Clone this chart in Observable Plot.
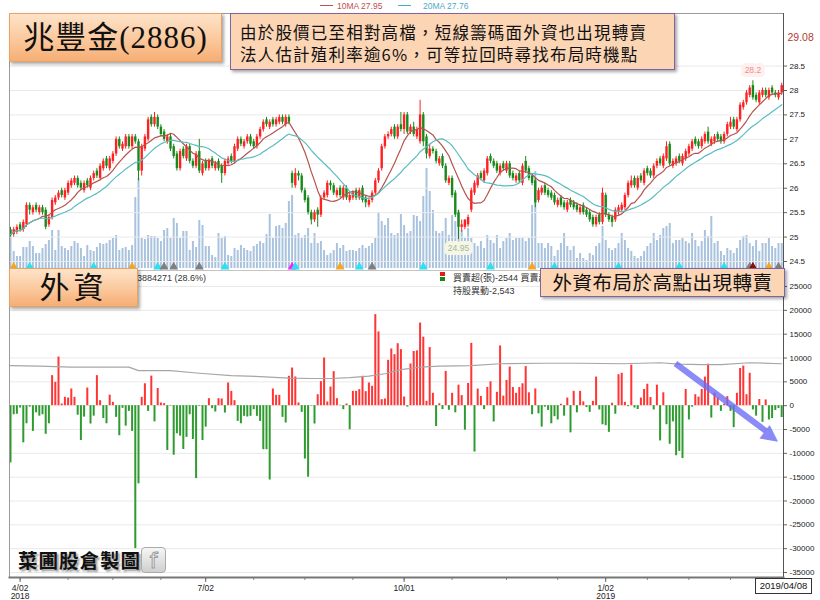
<!DOCTYPE html>
<html><head><meta charset="utf-8">
<script src="https://cdn.jsdelivr.net/npm/d3@7"></script>
<script src="https://cdn.jsdelivr.net/npm/@observablehq/plot@0.6"></script>
<style>
body{margin:0;background:#fff;}
#wrap{position:relative;width:820px;height:600px;overflow:hidden;background:#fff;font-family:"Liberation Sans",Arial,sans-serif;}
#wrap svg{position:absolute;left:0;}
.ov{position:absolute;box-sizing:border-box;white-space:nowrap;}
.orange{background:linear-gradient(to bottom,#fde3c9 0%,#fbc89c 55%,#f6ae74 100%);border:1px solid #e9a264;box-shadow:2px 2px 3px rgba(0,0,0,.35);text-align:center;color:#111;font-family:"Liberation Serif","Noto Sans CJK TC",serif;}
.peach{background:#fcd5b5;border:1.5px solid #8064a2;box-shadow:2px 2px 3px rgba(0,0,0,.35);color:#111;font-family:"Noto Sans CJK TC",sans-serif;}
.small{font-size:9px;color:#333;font-family:"Liberation Sans","Noto Sans CJK TC",sans-serif;}
</style></head><body><div id="wrap"></div>
<script>
// ---------- data ----------
const priceOpen = [25.15,25.05,25.10,25.25,25.15,25.25,25.65,25.50,25.65,25.50,
 25.60,25.55,25.25,25.40,25.70,25.80,25.95,25.80,25.90,26.05,
 26.10,26.20,26.10,25.95,26.15,26.00,26.20,26.35,26.20,26.40,
 26.60,26.40,26.55,26.70,27.00,26.80,26.85,27.05,26.85,27.05,
 26.95,26.35,26.80,27.00,27.45,27.30,27.45,27.25,27.15,26.95,
 27.05,26.85,26.70,26.40,26.80,26.60,26.85,26.55,26.45,26.75,
 26.30,26.55,26.40,26.60,26.40,26.55,26.45,26.30,26.50,26.65,
 26.55,26.80,27.00,26.85,26.95,27.05,26.95,26.85,27.05,27.20,
 27.40,27.25,27.40,27.30,27.35,27.45,27.30,27.45,26.30,26.05,
 26.30,26.25,25.95,25.80,25.50,25.35,25.55,25.45,25.80,25.85,
 26.10,26.05,25.85,26.00,25.80,26.00,25.75,25.80,25.95,25.80,
 26.00,25.80,25.65,25.75,25.90,26.15,26.40,26.85,27.05,27.10,
 27.25,27.05,27.30,27.20,27.50,27.15,27.25,27.05,26.95,27.50,
 27.05,26.65,26.80,26.75,26.50,26.65,26.45,26.10,26.20,25.90,
 25.50,25.20,25.20,25.25,25.55,25.90,26.05,26.30,26.15,26.30,
 26.65,26.55,26.50,26.30,26.50,26.35,26.50,26.30,26.15,26.30,
 26.10,26.55,26.40,26.25,26.15,25.75,25.90,26.05,25.95,25.90,
 25.85,25.65,25.80,25.70,25.55,25.75,25.70,25.65,25.50,25.65,
 25.55,25.50,25.40,25.25,25.45,25.30,25.85,25.45,25.40,25.35,
 25.50,25.55,25.60,25.85,26.05,26.20,26.00,26.25,26.10,26.40,
 26.35,26.25,26.45,26.60,26.45,26.60,26.90,26.45,26.50,26.65,
 26.50,26.60,26.70,26.80,27.00,26.95,26.85,26.95,27.15,26.90,
 26.95,27.10,27.05,26.95,27.10,27.25,27.40,27.20,27.40,27.65,
 27.75,27.90,28.10,27.90,27.75,27.90,28.00,27.85,28.05,27.95,
 27.85,27.95];
const priceHigh = [25.20,25.20,25.25,25.30,25.35,25.70,25.70,25.65,25.70,25.65,
 25.65,25.60,25.45,25.80,25.85,25.95,26.00,26.00,26.15,26.20,
 26.25,26.25,26.15,26.15,26.20,26.25,26.35,26.40,26.50,26.60,
 26.65,26.65,26.75,27.05,27.05,26.95,27.10,27.10,27.10,27.10,
 27.00,26.90,27.10,27.45,27.50,27.55,27.50,27.30,27.20,27.10,
 27.10,26.90,26.75,26.80,26.85,26.90,26.90,26.60,26.75,27.00,
 26.55,26.60,26.60,26.65,26.55,26.60,26.50,26.60,26.65,26.70,
 26.90,27.05,27.05,27.00,27.10,27.10,27.00,27.10,27.25,27.40,
 27.45,27.40,27.45,27.45,27.50,27.50,27.50,27.50,26.35,26.40,
 26.35,26.30,26.00,25.85,25.55,25.55,25.60,25.85,25.95,26.15,
 26.15,26.10,26.00,26.05,26.05,26.05,25.90,25.95,26.00,26.00,
 26.05,25.85,25.80,25.95,26.20,26.40,26.90,27.10,27.15,27.25,
 27.30,27.30,27.55,27.55,27.55,27.30,27.35,27.25,27.80,27.55,
 27.10,26.90,26.85,26.80,26.65,26.70,26.50,26.25,26.25,25.95,
 25.55,25.35,25.35,25.45,26.00,26.15,26.30,26.35,26.40,26.65,
 26.70,26.60,26.55,26.50,26.55,26.55,26.55,26.35,26.30,26.35,
 26.50,26.65,26.45,26.30,26.20,26.00,26.05,26.10,26.00,25.95,
 25.90,25.80,25.85,25.75,25.75,25.80,25.75,25.70,25.65,25.70,
 25.60,25.55,25.45,25.45,25.50,26.00,25.90,25.50,25.45,25.60,
 25.65,25.70,25.90,26.15,26.25,26.25,26.25,26.30,26.40,26.45,
 26.40,26.50,26.60,26.65,26.70,26.95,26.95,26.60,26.65,26.70,
 26.70,26.80,26.90,27.00,27.05,27.00,27.05,27.15,27.25,27.05,
 27.10,27.15,27.10,27.15,27.35,27.45,27.45,27.45,27.75,27.80,
 28.00,28.10,28.20,27.95,28.00,28.05,28.05,28.05,28.10,28.00,
 28.00,28.15];
const priceLow = [25.00,25.00,25.05,25.10,25.10,25.20,25.45,25.45,25.50,25.45,
 25.45,25.15,25.20,25.35,25.65,25.75,25.80,25.75,25.85,26.00,
 26.05,26.00,25.95,25.90,26.00,25.95,26.15,26.20,26.15,26.35,
 26.40,26.35,26.50,26.65,26.80,26.75,26.80,26.80,26.80,26.90,
 26.15,26.25,26.75,26.95,27.25,27.25,27.20,27.05,26.95,26.90,
 26.75,26.60,26.35,26.35,26.60,26.55,26.50,26.40,26.40,26.30,
 26.25,26.35,26.35,26.40,26.35,26.35,26.10,26.25,26.45,26.50,
 26.50,26.75,26.85,26.80,26.90,26.85,26.80,26.80,27.00,27.15,
 27.25,27.20,27.25,27.25,27.30,27.30,27.25,27.30,26.00,26.00,
 26.15,25.90,25.70,25.45,25.25,25.30,25.20,25.40,25.75,25.80,
 25.95,25.85,25.80,25.80,25.75,25.75,25.70,25.75,25.75,25.75,
 25.70,25.60,25.60,25.70,25.85,26.10,26.35,26.80,27.00,27.05,
 27.00,27.00,27.15,27.10,27.10,27.10,27.05,27.00,26.90,26.85,
 26.60,26.60,26.70,26.50,26.45,26.40,26.10,26.05,25.80,25.40,
 24.95,25.10,25.15,25.20,25.50,25.85,26.00,26.15,26.10,26.25,
 26.50,26.40,26.30,26.25,26.35,26.30,26.20,26.15,26.10,26.10,
 26.05,26.30,26.15,26.05,25.60,25.70,25.85,25.85,25.80,25.75,
 25.65,25.60,25.60,25.55,25.50,25.60,25.55,25.50,25.45,25.45,
 25.40,25.30,25.20,25.20,25.25,25.25,25.40,25.30,25.20,25.30,
 25.45,25.50,25.55,25.80,26.00,26.00,25.95,26.10,26.05,26.25,
 26.20,26.20,26.40,26.45,26.40,26.55,26.45,26.40,26.45,26.50,
 26.45,26.55,26.65,26.75,26.85,26.80,26.80,26.90,26.90,26.85,
 26.90,26.95,26.90,26.90,27.05,27.20,27.20,27.15,27.35,27.60,
 27.70,27.85,27.80,27.75,27.70,27.85,27.85,27.80,27.90,27.85,
 27.80,27.90];
const priceClose = [25.05,25.15,25.20,25.15,25.30,25.65,25.55,25.60,25.55,25.60,
 25.50,25.20,25.40,25.75,25.80,25.90,25.85,25.95,26.10,26.15,
 26.20,26.05,26.00,26.10,26.05,26.20,26.30,26.25,26.45,26.55,
 26.45,26.60,26.70,27.00,26.85,26.90,27.05,26.85,27.05,26.95,
 26.35,26.85,27.05,27.40,27.30,27.45,27.25,27.10,27.00,27.05,
 26.80,26.65,26.40,26.75,26.65,26.85,26.55,26.45,26.70,26.35,
 26.50,26.40,26.55,26.45,26.50,26.40,26.30,26.55,26.60,26.55,
 26.85,27.00,26.90,26.95,27.05,26.90,26.85,27.05,27.20,27.35,
 27.30,27.35,27.30,27.40,27.45,27.35,27.45,27.35,26.10,26.30,
 26.25,25.95,25.75,25.50,25.35,25.50,25.45,25.80,25.90,26.10,
 26.05,25.90,25.95,25.85,26.00,25.80,25.85,25.90,25.80,25.95,
 25.75,25.70,25.75,25.90,26.15,26.35,26.85,27.05,27.10,27.20,
 27.05,27.25,27.20,27.50,27.15,27.25,27.10,27.20,27.50,26.95,
 26.70,26.80,26.75,26.55,26.60,26.45,26.15,26.20,25.85,25.45,
 25.20,25.25,25.35,25.40,25.95,26.10,26.25,26.20,26.35,26.60,
 26.55,26.45,26.35,26.45,26.40,26.50,26.25,26.20,26.25,26.15,
 26.45,26.35,26.20,26.10,25.70,25.95,26.00,25.90,25.85,25.80,
 25.70,25.75,25.65,25.60,25.70,25.65,25.60,25.55,25.60,25.50,
 25.45,25.35,25.25,25.40,25.30,25.90,25.45,25.35,25.30,25.55,
 25.60,25.65,25.85,26.10,26.15,26.05,26.20,26.15,26.35,26.30,
 26.25,26.45,26.55,26.50,26.65,26.85,26.50,26.55,26.60,26.55,
 26.65,26.75,26.85,26.95,26.90,26.85,27.00,27.10,26.95,27.00,
 27.05,27.00,26.95,27.10,27.30,27.35,27.25,27.40,27.70,27.75,
 27.95,28.05,27.85,27.80,27.95,28.00,27.90,28.00,27.95,27.90,
 27.95,28.10];
// volume, thousand lots
const volume = [35,17,12,12,21,21,27,22,15,15,
 20,24,28,38,18,38,22,20,18,22,
 27,25,20,12,23,18,17,21,25,24,
 25,28,30,33,18,20,21,18,23,71,
 90,30,29,33,32,32,30,27,38,40,
 30,50,45,30,37,37,18,27,21,48,
 43,22,22,13,11,35,30,32,13,12,
 20,18,23,20,18,17,22,24,27,25,
 34,54,30,42,43,40,45,67,73,33,
 35,30,33,40,25,35,25,27,18,13,
 15,18,25,20,23,17,18,18,17,20,
 23,20,22,25,30,56,47,43,50,35,
 33,35,54,43,35,37,53,52,47,72,
 100,77,58,37,35,37,50,33,53,47,
 58,38,30,40,30,25,22,27,20,33,
 28,25,33,20,27,30,35,28,30,30,
 30,27,30,63,97,25,25,20,25,22,
 12,18,25,35,22,18,22,10,15,10,
 8,15,13,22,25,42,28,20,18,20,
 25,35,28,20,17,12,10,12,17,22,
 25,35,28,33,40,42,45,25,28,28,
 30,27,25,35,28,22,27,38,32,52,
 25,27,17,13,20,18,15,20,28,32,
 33,25,22,28,17,25,25,30,22,20,25,25];
// foreign investors net buy/sell (lots)
const foreignNet = [-12000,-1900,-1800,-500,-7800,-3800,-300,-5400,-1500,-2200,
 -1900,-6000,-3800,6300,4900,10200,350,1750,1600,3500,
 1750,-2000,-7300,-2400,3700,-3850,-2200,6300,1050,-2700,
 -3800,2200,700,-2450,-6300,-560,-4300,-1200,-5400,-30000,
 -16400,1750,4600,-1200,6200,-3400,3600,560,420,-9400,
 -100,-10400,-5900,-6400,-9200,-6650,-1900,-7100,-15300,-150,
 -7300,-4500,1470,-630,-1330,1470,1400,-1540,4760,3000,
 1050,-3300,-3800,-2240,-2380,-2240,-840,-2240,-3300,-9240,
 -9240,-15600,3500,2170,2170,-2450,-3640,6160,7900,6020,
 560,-1400,-11200,-15000,-100,-3850,2300,5040,10000,770,
 3900,7140,1470,80,-840,350,-5040,3000,3000,3360,
 6160,2940,4760,4060,19100,15470,1260,1400,9520,11900,
 10700,13000,11760,1820,-280,8750,11370,11500,17330,14380,
 900,12190,2600,-4380,400,-820,7190,-960,2600,-1500,
 4300,2120,-5140,4660,13080,-9730,3490,1920,-820,3840,
 5000,-3420,2800,12530,2000,5300,8100,3800,2600,3800,
 4600,8200,2700,-1900,3500,-1700,-4500,-300,-1000,-3800,
 -2300,-3000,300,-2200,1600,-5700,3000,-1500,3000,800,
 -400,-1400,900,6000,-900,-4000,-4200,-5600,500,-1800,
 6500,6800,700,-200,8500,-500,-800,1600,3400,4500,
 1700,-900,4300,-7400,2700,-4000,-8100,-3400,-10500,-9600,
 -11100,3400,-3000,-300,2300,1800,3400,6000,8700,-2600,
 2600,1600,-1200,300,1900,-1200,-4600,2600,7800,8300,
 2300,6800,-900,-2200,1300,-3500,1200,-3000,-2700,-1000,
 -600,-2500];
// foreign holdings trend line (sampled days, drawn on the lower panel)
const holdIdx = [0,9,19,28,37,40,50,59,69,78,87,94,100,106,112,117,122,128,134,144,153,166,178,191,203,209,216,222,231,241];
const holdVal = [8400,8300,8100,8100,8100,7350,7350,6800,6300,6100,5800,5700,5700,5900,6200,6700,7550,8100,8300,8400,8800,8900,8900,8800,9000,8700,8600,8600,9000,8800];
// signal triangles at the bottom of the price panel
const eventIdx = [1,6,26,38,46,48,51,59,67,88,89,103,109,113,129,150,163,170,190,209,223,231,232,237,240];
const eventColor = ["#f5a623","#2fe0f0","#2fe0f0","#f5a623","#2fe0f0","#7f7f7f","#7f7f7f","#7f7f7f","#2fe0f0","#ff1fff","#2fe0f0","#f5a623","#2fe0f0","#7f7f7f","#2fe0f0","#2fe0f0","#f5a623","#2fe0f0","#2fe0f0","#2fe0f0","#2fe0f0","#7f7f7f","#8b0d0d","#f5a623","#7f7f7f"];
const priceTicks = [24.5,25,25.5,26,26.5,27,27.5,28,28.5];
const priceAxisMax = 29.08;
const foreignTicks = [-35000,-30000,-25000,-20000,-15000,-10000,-5000,0,5000,10000,15000,20000,25000];
const xTickIdx = [3,18,32,47,61,76,92,107,123,138,155,171,186,199,212,225];
const xLabelIdx = [3,61,123,186];
const xLabels = ["4/02\n2018","7/02","10/01","1/02\n2019"];
const lastDate = "2019/04/08";
// annotation arrow (day index, lots)
const arrowStart = [207.8, 8850];
const arrowBase = [236.0, -5290];
const arrowHead = [238.0, -6300];

// ---------- charts ----------
const wrap = document.getElementById("wrap");
const xDom = [-0.3125, 241.5625];
const common = {width: 820, marginLeft: 9, marginRight: 37};
const days = priceClose.map((c, i) => ({i, o: priceOpen[i], h: priceHigh[i], l: priceLow[i], c, v: volume[i], f: foreignNet[i]}));
const upColor = "#ff2121", downColor = "#178a1a";
const candleColor = d => d.c >= d.o ? upColor : downColor;
const font = {background: "transparent", fontFamily: "'Liberation Sans', Arial, sans-serif", fontSize: "8px", color: "#222"};

const volSvg = Plot.plot({...common, height: 272, marginTop: 13, marginBottom: 4,
  x: {domain: xDom, axis: null}, y: {domain: [0, 255], axis: null},
  style: {background: "transparent"},
  marks: [Plot.ruleX(days, {x: "i", y1: 0, y2: "v", stroke: "#a9c2de", strokeWidth: 2})]
});

const maxDay = days[d3.maxIndex(priceHigh)];
const minDay = days[d3.minIndex(priceLow)];

const priceSvg = Plot.plot({...common, height: 272, marginTop: 13, marginBottom: 2,
  x: {domain: xDom, axis: null},
  y: {domain: [24.316, 29.576], axis: null},
  color: {type: "identity"},
  style: font,
  marks: [
    Plot.gridY(priceTicks, {stroke: "#e9e9e9", strokeOpacity: 1}),
    Plot.axisY(priceTicks, {anchor: "right", tickSize: 3, tickPadding: 3, tickFormat: d => String(d), label: null, stroke: "#666"}),
    Plot.text([priceAxisMax], {y: d => d, text: d => d.toFixed(2), frameAnchor: "right", textAnchor: "start", dx: 4, fill: "#b23b33", fontSize: 10.5}),
    Plot.ruleX(days, {x: "i", y1: "l", y2: "h", stroke: candleColor, strokeWidth: 1}),
    Plot.ruleX(days, {x: "i", y1: "o", y2: "c", stroke: candleColor, strokeWidth: 2.4}),
    Plot.lineY(days, Plot.windowY({k: 10, anchor: "end"}, {x: "i", y: "c", stroke: "#b5524d", strokeWidth: 1.2})),
    Plot.lineY(days, Plot.windowY({k: 20, anchor: "end"}, {x: "i", y: "c", stroke: "#5bbcbf", strokeWidth: 1.2})),
    Plot.dot(eventIdx, {x: d => d, fill: (d, k) => eventColor[k], symbol: "triangle", r: 3.3, frameAnchor: "bottom", dy: -3.5}),
    Plot.text([maxDay], {x: "i", y: "h", text: d => String(d.h), dy: -10, fill: "#f08b8b", stroke: "#fff0f0", strokeWidth: 8, fontSize: 8.5}),
    Plot.text([minDay], {x: "i", y: "l", text: d => String(d.l), dy: 9, fill: "#9dbb9d", stroke: "#f6f6e6", strokeWidth: 8, fontSize: 8.5}),
    Plot.frame({anchor: "top", stroke: "#9a9a9a"}),
    Plot.frame({anchor: "left", stroke: "#9a9a9a"}),
    Plot.frame({anchor: "right", stroke: "#555"}),
    Plot.frame({anchor: "bottom", stroke: "#c4c4c4"})
  ]
});

const labelMap = new Map(xLabelIdx.map((d, k) => [d, xLabels[k]]));
const arrowColor = "#6a6af5";
const foreignSvg = Plot.plot({...common, height: 330, marginTop: 2, marginBottom: 23,
  x: {domain: xDom, axis: null},
  y: {domain: [-36050, 27940], axis: null},
  color: {type: "identity"},
  style: font,
  marks: [
    Plot.gridY(foreignTicks, {stroke: "#e9e9e9", strokeOpacity: 1}),
    Plot.ruleX(days, {x: "i", y1: 0, y2: "f", stroke: d => d.f >= 0 ? "#ff3434" : "#2e9b2e", strokeWidth: 2}),
    Plot.line(holdIdx, {x: d => d, y: (d, k) => holdVal[k], stroke: "#a6a6a6", strokeWidth: 1.2}),
    Plot.link([{x1: arrowStart[0], y1: arrowStart[1], x2: arrowBase[0], y2: arrowBase[1]}],
      {x1: "x1", y1: "y1", x2: "x2", y2: "y2", stroke: arrowColor, strokeOpacity: 0.78, strokeWidth: 6}),
    Plot.text([{x: arrowHead[0], y: arrowHead[1]}], {x: "x", y: "y", text: () => "▶", rotate: 37, fontSize: 22, fill: arrowColor, fillOpacity: 0.78, fontFamily: "DejaVu Sans"}),
    Plot.axisY(foreignTicks, {anchor: "right", tickSize: 3, tickPadding: 3, tickFormat: d => String(d), label: null, stroke: "#666"}),
    Plot.axisX(xTickIdx, {anchor: "bottom", tickSize: 3, tickFormat: () => "", label: null, stroke: "#888"}),
    Plot.axisX(xLabelIdx, {anchor: "bottom", tickSize: 5, tickPadding: 2, tickFormat: d => labelMap.get(d), label: null, fontSize: 8.5, stroke: "#666"}),
    Plot.frame({anchor: "left", stroke: "#9a9a9a"}),
    Plot.frame({anchor: "right", stroke: "#555"}),
    Plot.frame({anchor: "bottom", stroke: "#777", strokeWidth: 2})
  ]
});

volSvg.style.top = "0px";
priceSvg.style.top = "0px";
foreignSvg.style.top = "270px";
wrap.append(volSvg, priceSvg, foreignSvg);

// ---------- overlays ----------
function ov(html, css, cls) {
  const d = document.createElement("div");
  d.className = "ov " + (cls || "");
  d.style.cssText = css;
  d.innerHTML = html;
  wrap.appendChild(d);
  return d;
}
// legend
ov("", "left:320px;top:5px;width:13px;height:0;border-top:1.2px solid #c0504d;");
ov("10MA 27.95", "left:337px;top:1px;font-size:8.5px;color:#c0504d;");
ov("", "left:398px;top:5px;width:13px;height:0;border-top:1.2px solid #4bacc6;");
ov("20MA 27.76", "left:423px;top:1px;font-size:8.5px;color:#4bacc6;");
// info lines under price panel
ov("外資庫存3884271 (28.6%)", "left:101px;top:271px;", "small");
ov("", "left:440px;top:272px;width:5px;height:4px;background:#e21b1b;");
ov("", "left:440px;top:277px;width:5px;height:4px;background:#148a14;");
ov("買賣超(張)-2544 買賣超(億)", "left:453px;top:271px;", "small");
ov("持股異動-2,543", "left:453px;top:284px;", "small");
// boxes
ov("兆豐金(2886)", "left:9px;top:13px;width:213px;height:49px;font-size:31px;line-height:48px;letter-spacing:1px;", "orange");
ov("<div style='height:22px;line-height:22px'>由於股價已至相對高檔，短線籌碼面外資也出現轉賣</div><div style='height:22px;line-height:22px'>法人估計殖利率逾6%，可等拉回時尋找布局時機點</div>",
   "left:230px;top:13px;width:445px;height:57px;font-size:16.5px;letter-spacing:1.2px;padding:7px 0 0 9px;", "peach");
ov("外資", "left:9px;top:268px;width:129px;height:39px;font-size:30px;line-height:38px;letter-spacing:4px;", "orange");
ov("外資布局於高點出現轉賣", "left:540px;top:268px;width:245px;height:29px;font-size:19.5px;line-height:26px;letter-spacing:0.5px;text-align:center;", "peach");
// watermark
ov("菜圃股倉製圖", "left:18px;top:545px;font-size:19.5px;font-weight:700;letter-spacing:1px;color:#111;font-family:'Liberation Serif','Noto Sans CJK TC',serif;text-shadow:2px 2px 2px #999;");
ov("f", "left:141px;top:547px;width:25px;height:26px;border-radius:4px;background:linear-gradient(#f6f6f6,#cfcfcf);border:1px solid #aaa;font-size:22px;line-height:25px;text-align:center;color:#fafafa;-webkit-text-stroke:1px #9a9a9a;font-family:'DejaVu Sans',sans-serif;");
// last date box
ov(lastDate, "left:755px;top:578px;width:57px;height:16px;border:1px solid #333;background:#fff;font-size:9.5px;line-height:14px;text-align:center;color:#111;");
</script></body></html>
